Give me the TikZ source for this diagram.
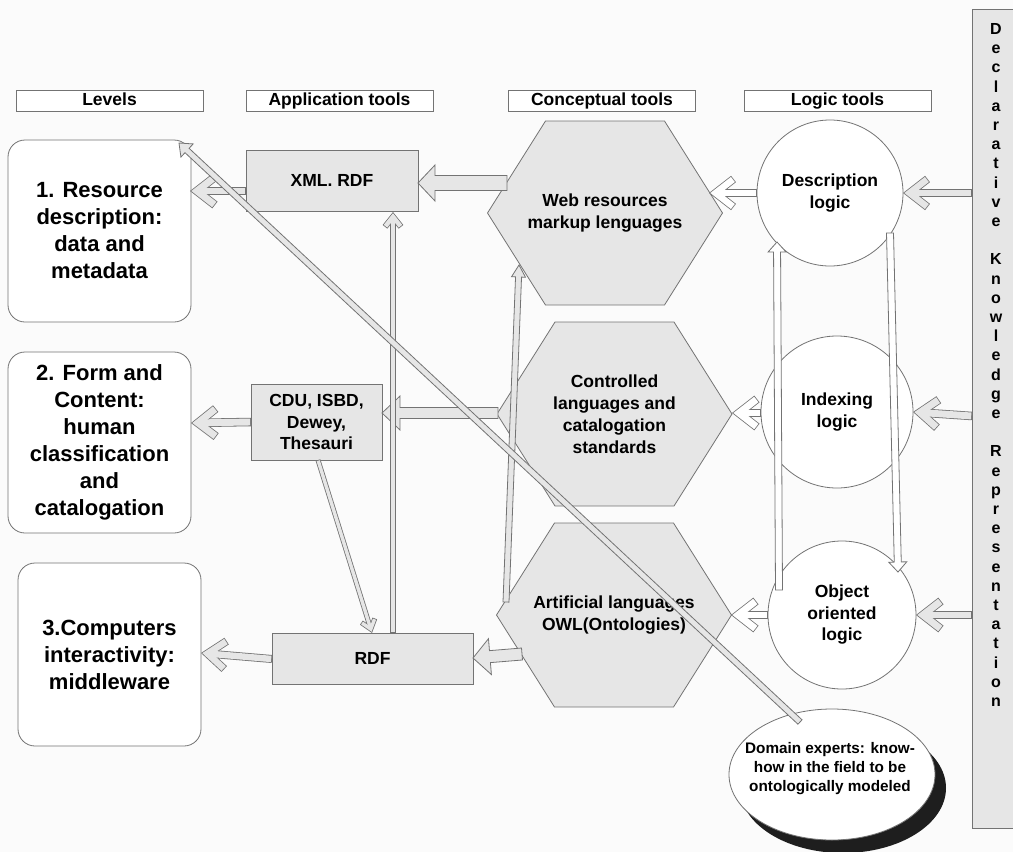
\documentclass[tikz,border=0pt]{standalone}
\usepackage{fontspec}
\setmainfont{Liberation Sans}
\usetikzlibrary{calc,shapes.geometric}
\definecolor{bg}{RGB}{251,251,251}
\definecolor{lg}{RGB}{230,230,230}
\definecolor{ln}{RGB}{115,115,115}
\definecolor{shad}{RGB}{30,30,30}

% block arrow: [fill] start, tip, shaft half width, head half width, head length
\newcommand\blockarrow[6][lg]{%
  \coordinate (bah) at ($(#3)!#6pt!(#2)$);
  \filldraw[fill=#1,draw=ln,line width=0.8pt,line join=miter]
   ($(#2)!#4pt!90:(#3)$) -- ($(bah)!#4pt!90:(#3)$) -- ($(bah)!#5pt!90:(#3)$) -- (#3)
   -- ($(bah)!#5pt!-90:(#3)$) -- ($(bah)!#4pt!-90:(#3)$) -- ($(#2)!#4pt!-90:(#3)$) -- cycle;}

% chevron arrow: [fill] start, visual tip, line width, wing half span, wing length
\newcommand\chevarrow[6][lg]{%
  \pgfmathsetmacro\chm{#4/2*veclen(#6,#5)/#5}%
  \pgfmathsetmacro\chin{#4-1.6}%
  \coordinate (cht) at ($(#3)!\chm pt!(#2)$);
  \coordinate (chb) at ($(cht)!#6pt!(#2)$);
  \coordinate (chwa) at ($(chb)!#5pt!90:(cht)$);
  \coordinate (chwb) at ($(chb)!#5pt!-90:(cht)$);
  \draw[draw=ln,line width=#4pt] (#2) -- (cht);
  \draw[draw=ln,line width=#4pt,line join=miter] (chwa) -- (cht) -- (chwb);
  \draw[draw=#1,line width=\chin pt,shorten <=0.8pt] (#2) -- (cht);
  \draw[draw=#1,line width=\chin pt,line join=miter,shorten <=0.8pt,shorten >=0.8pt] (chwa) -- (cht) -- (chwb);}

\newcommand\hexnode[4]{%
  \filldraw[fill=lg,draw=ln,line width=0.8pt] (#2-117.5,#3) -- (#2-59.5,#3-92) -- (#2+59.5,#3-92)
    -- (#2+117.5,#3) -- (#2+59.5,#3+92) -- (#2-59.5,#3+92) -- cycle;
  \node[hextext] (#1) at (#2,#3) {#4};}

\tikzset{
  hdr/.style={draw=ln,fill=white,line width=0.8pt,minimum width=187pt,minimum height=21pt,inner sep=0pt,
    text height=12.6pt,text depth=3.6pt,font=\fontsize{17.5}{21}\selectfont\bfseries},
  lvl/.style={draw=ln,fill=white,rounded corners=17pt,line width=0.8pt,minimum width=183pt,inner sep=0pt,
    align=center,font=\fontsize{22}{27}\selectfont\bfseries},
  app/.style={draw=ln,fill=lg,line width=0.8pt,inner sep=0pt,align=center,
    font=\fontsize{17.5}{21.5}\selectfont\bfseries},
  hextext/.style={inner sep=0pt,align=center,font=\fontsize{17.5}{22}\selectfont\bfseries},
  circ/.style={circle,draw=ln,fill=white,line width=0.8pt,inner sep=0pt,align=center,
    font=\fontsize{17.5}{21.5}\selectfont\bfseries},
}

\begin{document}
\begin{tikzpicture}[x=1pt,y=-1pt]
\useasboundingbox (0,0) rectangle (1013,852);
\clip (0,0) rectangle (1013,852);
\fill[bg] (0,0) rectangle (1013,852);

% headers
\node[hdr] (hlev) at (109.5,100.5) {Levels};
\node[hdr] (happ) at (339.5,100.5) {Application tools};
\node[hdr] (hcon) at (602,100.5) {Conceptual tools};
\node[hdr] (hlog) at (837.5,100.5) {Logic tools};

% levels
\node[lvl,minimum height=182pt] (lv1) at (99.5,231) {1. Resource\\description:\\data and\\metadata};
\node[lvl,minimum height=181pt] (lv2) at (99.5,442.5) {2. Form and\\Content:\\human\\classification\\and\\catalogation};
\node[lvl,minimum height=183pt] (lv3) at (109.5,654.5) {3.Computers\\interactivity:\\middleware};

% application tools
\node[app,minimum width=172pt,minimum height=61pt] (xml) at (332,180.5) {XML. RDF};
\node[app,minimum width=131pt,minimum height=76pt] (cdu) at (316.5,422) {CDU, ISBD,\\Dewey,\\Thesauri};
\node[app,minimum width=201pt,minimum height=51pt] (rdf) at (372.5,658.5) {RDF};

% conceptual tools
\hexnode{hexa}{605}{213}{Web resources\\markup lenguages}
\hexnode{hexb}{614.5}{414}{Controlled\\languages and\\catalogation\\standards}
\hexnode{hexc}{614}{615}{Artificial languages\\OWL(Ontologies)}

% logic tools
\node[circ,minimum size=146pt] (desc) at (830,193) {Description\\logic};
\node[circ,minimum size=152pt] (idx) at (837,412) {Indexing\\logic};
\node[circ,minimum size=148pt] (obj) at (842,615) {Object\\oriented\\logic};

% domain experts
\fill[shad] (843,788) ellipse [x radius=103pt,y radius=65pt];
\node[ellipse,draw=ln,fill=white,line width=0.8pt,minimum width=206pt,minimum height=131pt,inner sep=0pt] (dom) at (832,774.5) {};
\node[align=center,inner sep=0pt,font=\fontsize{15.3}{19}\selectfont\bfseries] (domtxt) at (830,769)
  {Domain experts: know-\\how in the field to be\\ontologically modeled};

% right bar
\node[draw=ln,fill=lg,line width=0.8pt,minimum width=60pt,minimum height=819pt,inner sep=0pt] (bar) at (1002,418.5) {};
\node[align=center,inner sep=0pt,font=\fontsize{16}{19.2}\selectfont\bfseries] (bartxt) at (996,365)
  {D\\e\\c\\l\\a\\r\\a\\t\\i\\v\\e\\[19.2pt]K\\n\\o\\w\\l\\e\\d\\g\\e\\[19.2pt]R\\e\\p\\r\\e\\s\\e\\n\\t\\a\\t\\i\\o\\n};

% connector end points
\coordinate (xmlL) at (246,191);   \coordinate (lv1R) at (190,191);
\coordinate (cduL) at (251,422);   \coordinate (lv2R) at (191,423);
\coordinate (rdfL) at (272,659);   \coordinate (lv3R) at (201,653);
\coordinate (descL) at (757,193);  \coordinate (hexaR) at (709,193);
\coordinate (barA) at (972,193);   \coordinate (descR) at (903,193);
\coordinate (idxL) at (761,413);   \coordinate (hexbR) at (732,413);
\coordinate (barB) at (972,416);   \coordinate (idxR) at (913,412);
\coordinate (objL) at (768,615);   \coordinate (hexcR) at (731,615);
\coordinate (barC) at (972,615);   \coordinate (objR) at (916,615);
\coordinate (rdfT) at (393,633);   \coordinate (xmlB) at (393,212);
\coordinate (cduB) at (318,460);   \coordinate (rdfTa) at (372,633);
\coordinate (hexaL) at (507,183);  \coordinate (xmlR) at (418,183);
\coordinate (hexbL) at (498,413);  \coordinate (cduR) at (382,413);
\coordinate (hexcL) at (522,654);  \coordinate (rdfR) at (473,658);
\coordinate (hexcUL) at (506,602); \coordinate (hexaLL) at (519,265);
\coordinate (objUL) at (779,590);  \coordinate (descLL) at (777,242);
\coordinate (descLR) at (890,233); \coordinate (objUR) at (898,572);
\coordinate (domT) at (800,722);   \coordinate (lv1C) at (179,143);

% block arrows
\blockarrow{hexaL}{xmlR}{7.5}{18}{17}
\blockarrow{hexbL}{cduR}{5.5}{17}{18}
\blockarrow{hexcL}{rdfR}{6}{18}{17}
\blockarrow{hexcUL}{hexaLL}{3}{7}{12}
\blockarrow[white]{objUL}{descLL}{3.5}{9}{10}
\blockarrow[white]{descLR}{objUR}{3.5}{9}{10}

% chevron arrows
\chevarrow{xmlL}{lv1R}{8.5}{14}{18}
\chevarrow{cduL}{lv2R}{8.5}{14}{18}
\chevarrow{rdfL}{lv3R}{8}{14}{18}
\chevarrow[white]{descL}{hexaR}{8}{14}{18}
\chevarrow{barA}{descR}{8}{14}{18}
\chevarrow[white]{idxL}{hexbR}{8.5}{14}{18}
\chevarrow{barB}{idxR}{8.5}{14}{18}
\chevarrow[white]{objL}{hexcR}{8.5}{14}{18}
\chevarrow{barC}{objR}{8.5}{14}{18}
\chevarrow{rdfT}{xmlB}{6}{8}{10}
\chevarrow{cduB}{rdfTa}{5}{7}{9}

% long diagonal arrow
\blockarrow{domT}{lv1C}{3}{9}{11}
\end{tikzpicture}
\end{document}
